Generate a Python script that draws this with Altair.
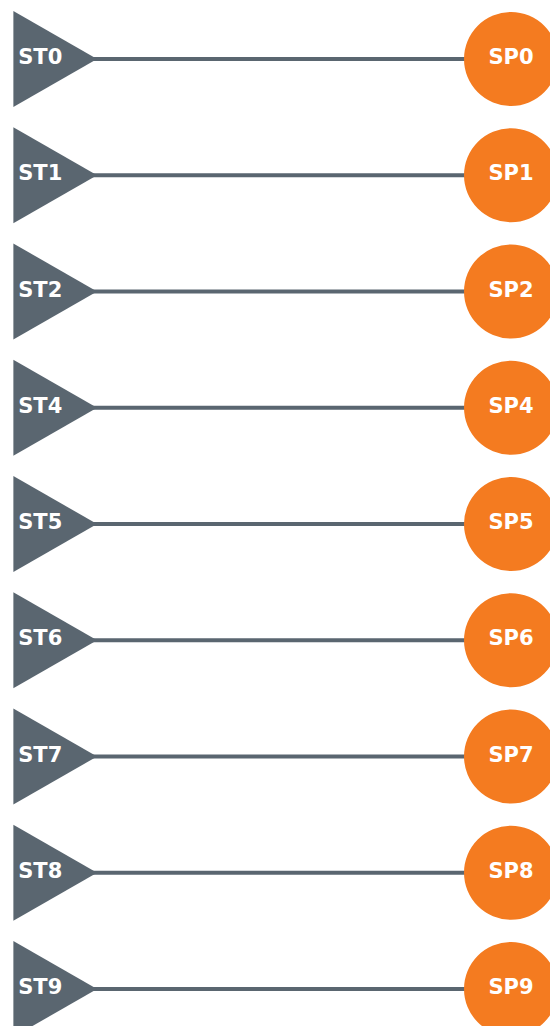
import altair as alt
import pandas as pd

# Data
row_ids = ["0", "1", "2", "4", "5", "6", "7", "8", "9"]
start_labels = ["ST" + r for r in row_ids]
stop_labels = ["SP" + r for r in row_ids]
start_pos = [0] * len(row_ids)
stop_pos = [1] * len(row_ids)

GRAY = "#5a6670"
ORANGE = "#f47b20"

df = pd.DataFrame({
    "row": list(range(len(row_ids))),
    "start": start_labels,
    "stop": stop_labels,
    "x0": start_pos,
    "x1": stop_pos,
})

W, H = 542, 1018
X0, XU = 47.2, 455.8      # plot x of start, pixels per unit
Y0, YU = 51.0, 116.25     # plot y of first row, pixels per row
xscale = alt.Scale(domain=[-X0 / XU, (W - X0) / XU], nice=False, zero=False)
yscale = alt.Scale(domain=[-Y0 / YU, (H - Y0) / YU], nice=False, zero=False, reverse=True)

base = alt.Chart(df)
X_start = alt.X("x0:Q", scale=xscale, axis=None)
X_stop = alt.X("x1:Q", scale=xscale, axis=None)
Y_row = alt.Y("row:Q", scale=yscale, axis=None)

rule = base.mark_rule(color=GRAY, strokeWidth=4).encode(x=X_start, x2="x1:Q", y=Y_row)

tri = base.mark_point(
    shape="M-0.872,-1L0.872,0L-0.872,1Z", size=9216, filled=True, opacity=1, color=GRAY, strokeWidth=0
).encode(x=X_start, y=Y_row)

circ = base.mark_point(
    shape="circle", size=8836, filled=True, opacity=1, color=ORANGE, strokeWidth=0
).encode(x=X_stop, y=Y_row)

st_text = base.mark_text(
    align="left", baseline="middle", dx=-37, dy=-1, color="white",
    font="DejaVu Sans", fontSize=21, fontWeight="bold"
).encode(x=X_start, y=Y_row, text="start:N")

sp_text = base.mark_text(
    align="center", baseline="middle", dx=0, dy=-1, color="white",
    font="DejaVu Sans", fontSize=21, fontWeight="bold"
).encode(x=X_stop, y=Y_row, text="stop:N")

chart = alt.layer(rule, tri, circ, st_text, sp_text).properties(
    width=W, height=H, padding=0, autosize="none", background="white"
).configure_view(stroke=None)

chart.save("out.html", embed_options={"renderer": "svg", "actions": False})
